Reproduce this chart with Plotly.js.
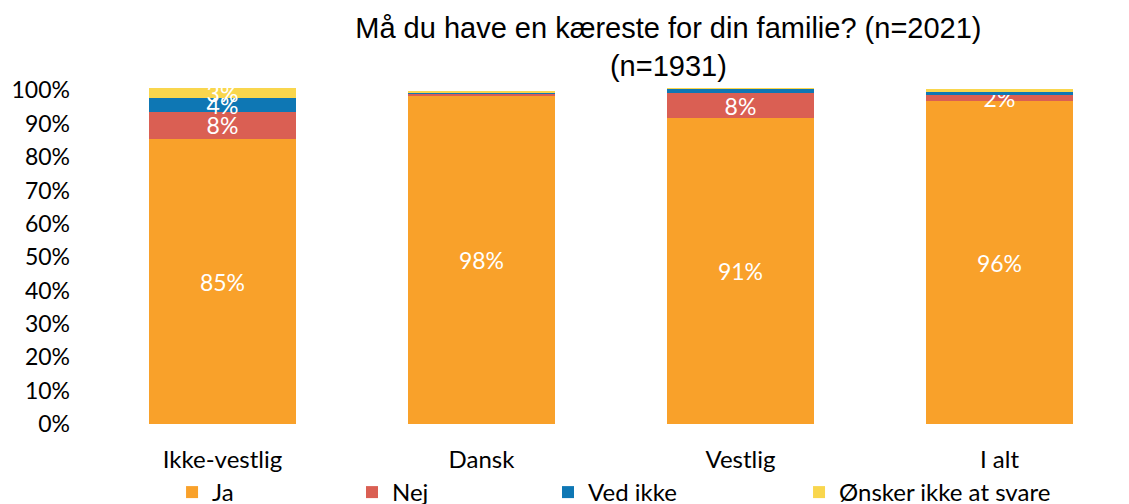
<!DOCTYPE html>
<html>
<head>
<meta charset="utf-8">
<script src="https://cdn.plot.ly/plotly-3.0.1.min.js"></script>
<style>html,body{margin:0;padding:0;background:#fff;}#chart{width:1129px;height:504px;}</style>
</head>
<body>
<div id="chart"></div>
<script>
const categories = ["Ikke-vestlig", "Dansk", "Vestlig", "I alt"];
const seriesNames = ["Ja", "Nej", "Ved ikke", "Ønsker ikke at svare"];
const ja = [0.854, 0.984, 0.916, 0.967];
const nej = [0.082, 0.004, 0.075, 0.020];
const vedIkke = [0.041, 0.004, 0.012, 0.008];
const onsker = [0.030, 0.006, 0.003, 0.010];
const jaLabels = ["85%", "98%", "91%", "96%"];
const nejLabels = ["8%", "", "8%", "2%"];
const vedIkkeLabels = ["4%", "", "", ""];
const onskerLabels = ["3%", "", "", ""];
const yTickVals = [0, 0.1, 0.2, 0.3, 0.4, 0.5, 0.6, 0.7, 0.8, 0.9, 1.0];
const yTickText = ["0%", "10%", "20%", "30%", "40%", "50%", "60%", "70%", "80%", "90%", "100%"];
const colors = ["#F9A12A", "#DA5F53", "#0E77B4", "#F9D64D"];

const values = [ja, nej, vedIkke, onsker];
const labels = [jaLabels, nejLabels, vedIkkeLabels, onskerLabels];
const fontFam = "Lato, 'Open Sans', sans-serif";
const labelFont = {family: fontFam, size: 23, color: "#ffffff"};
const legendIds = ["legend", "legend2", "legend3", "legend4"];
const legendX = [0.0763, 0.2500, 0.4392, 0.6815];

const traces = values.map((v, i) => ({
  type: "bar",
  name: seriesNames[i],
  x: categories,
  y: v,
  text: labels[i],
  textposition: "inside",
  insidetextanchor: "middle",
  textfont: labelFont,
  constraintext: "none",
  marker: {color: colors[i], line: {width: 0}},
  legend: legendIds[i],
  hoverinfo: "skip"
}));

const layout = {
  width: 1129,
  height: 504,
  barmode: "stack",
  bargap: 0.43,
  margin: {l: 93, r: 0, t: 87, b: 0, autoexpand: false},
  paper_bgcolor: "#ffffff",
  plot_bgcolor: "#ffffff",
  uniformtext: {minsize: 23, mode: "show"},
  title: {
    text: "Må du have en kæreste for din familie? (n=2021)<br>(n=1931)",
    font: {family: "'Liberation Sans', Arial, sans-serif", size: 29, color: "#000000"},
    xref: "container", x: 0.592, xanchor: "center",
    yref: "container", y: 0.925, yanchor: "top"
  },
  xaxis: {
    tickfont: {family: fontFam, size: 24, color: "#000000"},
    ticklabelstandoff: 19,
    showgrid: false, showline: false, zeroline: false, ticks: "",
    automargin: false
  },
  yaxis: {
    domain: [80 / 417, 1],
    range: [0, 1.01],
    tickvals: yTickVals,
    ticktext: yTickText,
    tickfont: {family: fontFam, size: 23, color: "#000000"},
    ticklabelstandoff: 22,
    showgrid: false, showline: false, zeroline: false, ticks: "",
    automargin: false
  },
  showlegend: true
};

legendIds.forEach((id, i) => {
  layout[id] = {
    orientation: "h",
    x: legendX[i], xanchor: "left",
    y: -11 / 417, yanchor: "bottom",
    font: {family: fontFam, size: 24, color: "#000000"},
    itemwidth: 30,
    bgcolor: "rgba(0,0,0,0)"
  };
});

Plotly.newPlot("chart", traces, layout, {displayModeBar: false, staticPlot: true});
</script>
</body>
</html>
